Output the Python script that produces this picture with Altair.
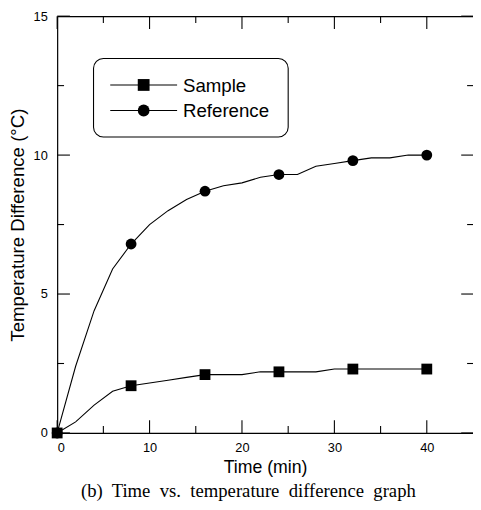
import altair as alt
import pandas as pd

# ---- data ----
line_times = [0, 2, 4, 6, 8, 10, 12, 14, 16, 18, 20, 22, 24, 26, 28, 30, 32, 34, 36, 38, 40]
sample_line = [0, 0.4, 1.0, 1.5, 1.7, 1.8, 1.9, 2.0, 2.1, 2.1, 2.1, 2.2, 2.2, 2.2, 2.2, 2.3, 2.3, 2.3, 2.3, 2.3, 2.3]
reference_line = [0, 2.4, 4.4, 5.9, 6.8, 7.5, 8.0, 8.4, 8.7, 8.9, 9.0, 9.2, 9.3, 9.3, 9.6, 9.7, 9.8, 9.9, 9.9, 10.0, 10.0]

marker_times = [0, 8, 16, 24, 32, 40]
sample_markers = [0, 1.7, 2.1, 2.2, 2.3, 2.3]
reference_markers = [0, 6.8, 8.7, 9.3, 9.8, 10.0]

series_names = ["Sample", "Reference"]
series_shapes = ["square", "circle"]

x_major = [0, 10, 20, 30, 40]
x_minor = [5, 15, 25, 35]
y_major = [0, 5, 10, 15]
y_minor = [2.5, 7.5, 12.5]

x_title = "Time (min)"
y_title = "Temperature Difference (°C)"
caption = "(b)\u00a0 Time\u00a0 vs.\u00a0 temperature\u00a0 difference\u00a0 graph"

# ---- layout ----
W, H = 423, 424
MAJ, MIN = 13, 7
FONT = "Liberation Sans"

lines_df = pd.DataFrame({
    "time": line_times * 2,
    "value": sample_line + reference_line,
    "series": ["Sample"] * len(line_times) + ["Reference"] * len(line_times),
})
sample_df = pd.DataFrame({"time": marker_times, "value": sample_markers})
ref_df = pd.DataFrame({"time": marker_times, "value": reference_markers})

xscale = alt.Scale(domain=[0, 45], nice=False, zero=False)
yscale = alt.Scale(domain=[0, 15], nice=False, zero=False)

lines = alt.Chart(lines_df).mark_line(color="black", strokeWidth=1.1).encode(
    x=alt.X("time:Q", scale=xscale,
            axis=alt.Axis(values=x_major, ticks=False, grid=False, domain=True,
                          domainColor="black", domainWidth=1.2,
                          title=x_title, labelFontSize=13, labelPadding=9,
                          labelColor="black", labelFont=FONT,
                          titleFont=FONT, titleFontSize=18, titleFontWeight="normal",
                          titleColor="black", titlePadding=4)),
    y=alt.Y("value:Q", scale=yscale,
            axis=alt.Axis(values=y_major, ticks=False, grid=False, domain=True,
                          domainColor="black", domainWidth=1.2,
                          title=y_title, labelFontSize=13, labelPadding=10,
                          labelColor="black", labelFont=FONT,
                          titleFont=FONT, titleFontSize=19, titleFontWeight="normal",
                          titleColor="black", titlePadding=6)),
    detail="series:N",
)

ref_pts = alt.Chart(ref_df).mark_point(shape="circle", filled=True, color="black", size=121, opacity=1).encode(
    x=alt.X("time:Q", scale=xscale, axis=None),
    y=alt.Y("value:Q", scale=yscale, axis=None),
)
sample_pts = alt.Chart(sample_df).mark_point(shape="square", filled=True, color="black", size=121, opacity=1).encode(
    x=alt.X("time:Q", scale=xscale, axis=None),
    y=alt.Y("value:Q", scale=yscale, axis=None),
)

# ---- legend (drawn as a box with one entry per series) ----
LX0, LX1, LY0, LY1 = 37, 235, 43, 123
ROW_Y = [70, 96]
SYM_X0, SYM_X1 = 54, 122
legend_layers = [
    alt.Chart(pd.DataFrame({"k": [0]})).mark_rect(
        fill="white", stroke="black", strokeWidth=1.1, cornerRadius=10).encode(
        x=alt.value(LX0), x2=alt.value(LX1), y=alt.value(LY0), y2=alt.value(LY1))
]
for name, shape, ry in zip(series_names, series_shapes, ROW_Y):
    d = pd.DataFrame({"series": [name]})
    legend_layers.append(alt.Chart(d).mark_rule(color="black", strokeWidth=1.1).encode(
        x=alt.value(SYM_X0), x2=alt.value(SYM_X1), y=alt.value(ry)))
    legend_layers.append(alt.Chart(d).mark_point(
        shape=shape, filled=True, color="black", size=144, opacity=1).encode(
        x=alt.value((SYM_X0 + SYM_X1) / 2), y=alt.value(ry)))
    legend_layers.append(alt.Chart(d).mark_text(
        align="left", baseline="middle", font=FONT, fontSize=19, color="black").encode(
        x=alt.value(SYM_X1 + 6), y=alt.value(ry + 1), text="series:N"))


def xtick_layer(vals, y1, y2, top=False):
    axis = None
    if top:
        axis = alt.Axis(orient="top", labels=False, ticks=False, grid=False, title=None,
                        domain=True, domainColor="black", domainWidth=1.2)
    df = pd.DataFrame({"v": vals})
    return alt.Chart(df).mark_rule(color="black", strokeWidth=1.1).encode(
        x=alt.X("v:Q", scale=xscale, axis=axis), y=alt.value(y1), y2=alt.value(y2))


def ytick_layer(vals, x1, x2):
    df = pd.DataFrame({"v": vals})
    return alt.Chart(df).mark_rule(color="black", strokeWidth=1.1).encode(
        y=alt.Y("v:Q", scale=yscale, axis=None), x=alt.value(x1), x2=alt.value(x2))


ticks = [
    xtick_layer(x_major, H, H - MAJ),
    xtick_layer(x_minor, H, H - MIN),
    xtick_layer(x_major, 0, MAJ, top=True),
    xtick_layer(x_minor, 0, MIN),
    ytick_layer(y_major, 0, MAJ),
    ytick_layer(y_minor, 0, MIN),
    ytick_layer(y_major, W + 1, W + 1 - MAJ),
    ytick_layer(y_minor, W + 1, W + 1 - MIN),
]

chart = alt.layer(lines, ref_pts, sample_pts, *ticks, *legend_layers).resolve_axis(
    x="independent", y="independent"
).properties(
    width=W, height=H,
    autosize=alt.AutoSizeParams(type="none"),
    padding={"left": 50, "top": 4, "right": 0, "bottom": 70},
    title=alt.TitleParams(text=caption, orient="bottom", anchor="middle",
                          font="Liberation Serif", fontSize=19, fontWeight="normal",
                          color="black", offset=6, dx=-17),
).configure_view(stroke=None).configure(background="white")

chart.save("out.html", embed_options={"renderer": "svg", "actions": False})
